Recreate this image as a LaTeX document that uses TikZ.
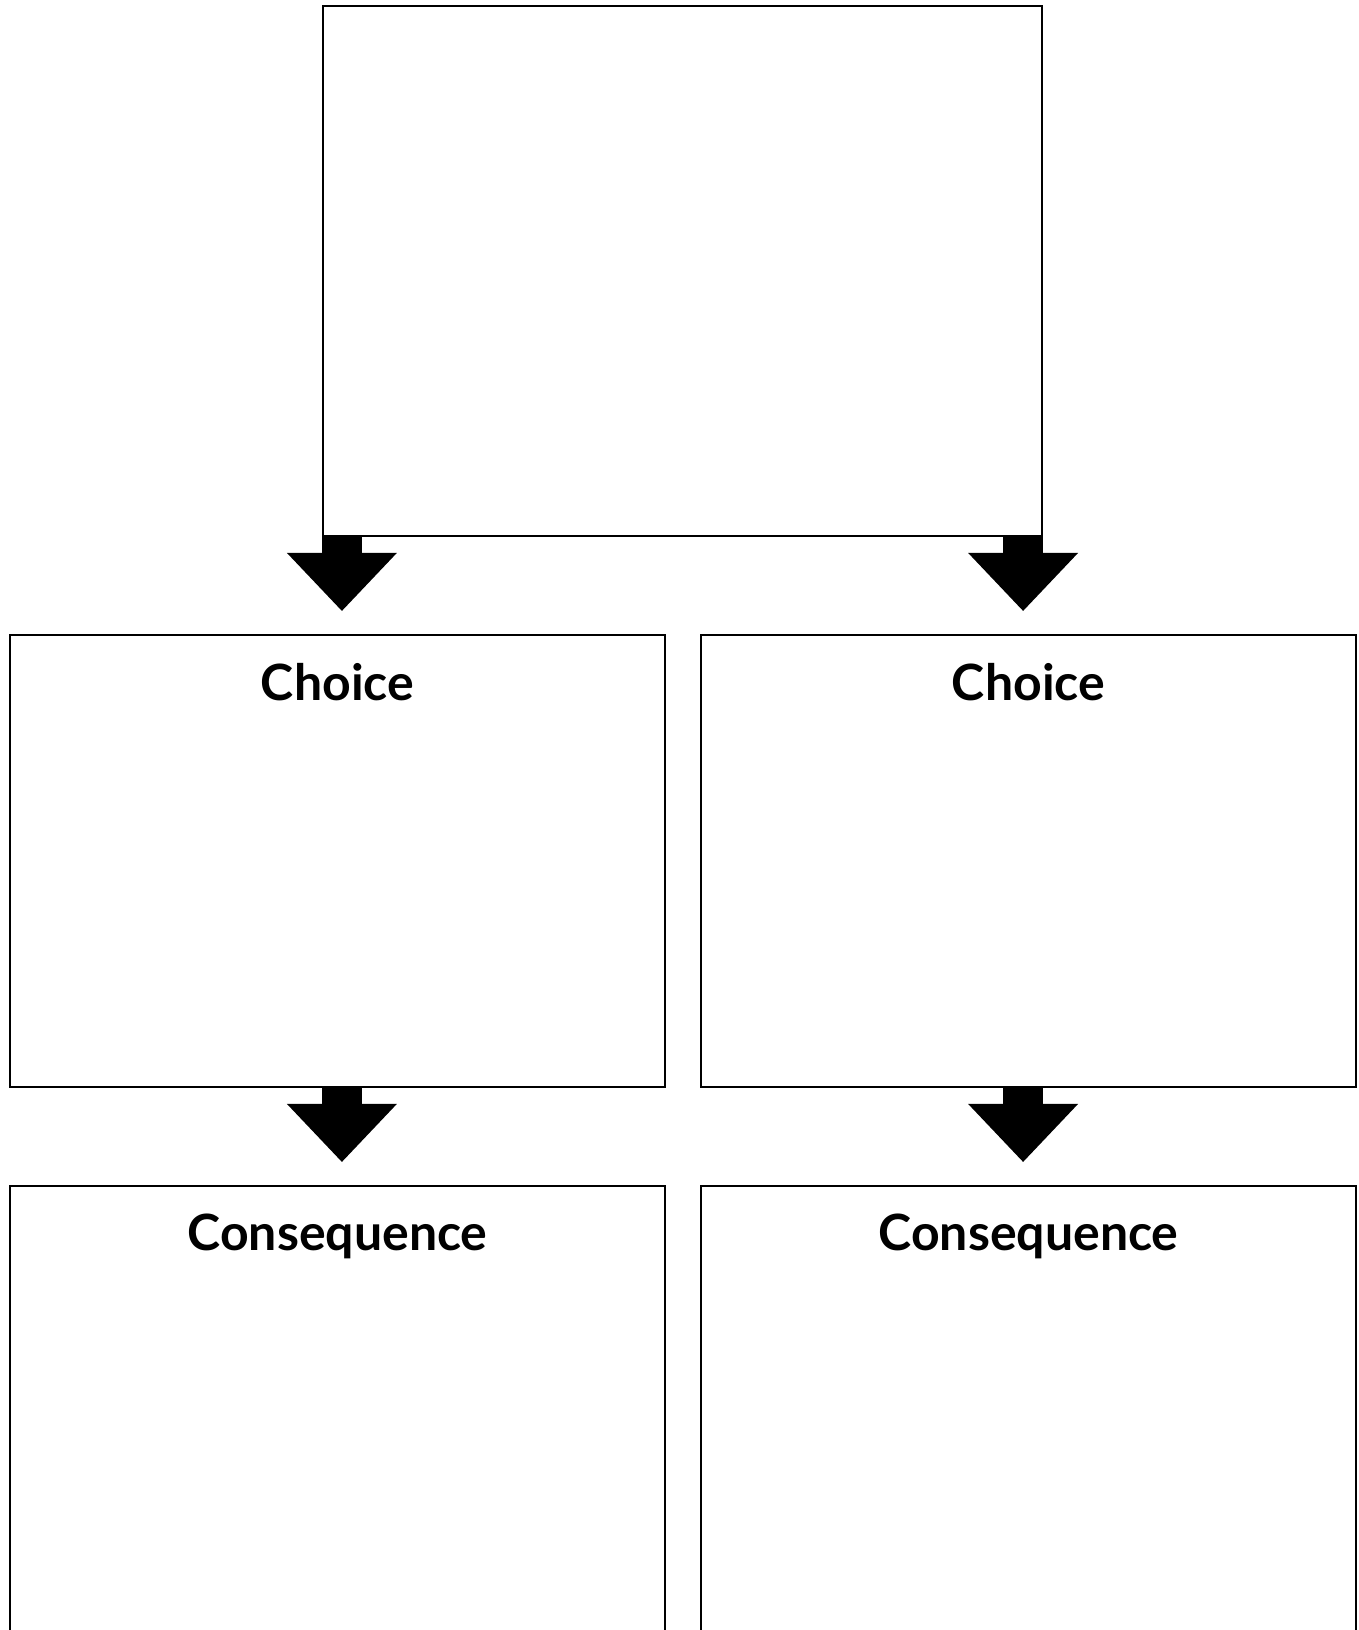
\documentclass[tikz,border=0pt]{standalone}
\usepackage{fontspec}
\setmainfont{Lato}
\usepackage{tikz}
\usetikzlibrary{positioning, arrows.meta}

\begin{document}
\begin{tikzpicture}[
      x=1pt, y=-1pt,
      box/.style={draw, line width=2.2pt, inner sep=0pt},
      title/.style={inner sep=0pt, font=\fontsize{50}{60}\selectfont\bfseries},
      bigarrow/.style={line width=40pt, -{Triangle[width=110pt, length=58pt, line width=0pt]}, shorten >=23pt}
    ]
      \useasboundingbox (0,0) rectangle (1359,1630);

      \node[box, minimum width=719pt, minimum height=530pt] (event) at (682.5,271) {};
      \node[box, minimum width=655pt, minimum height=452pt] (choiceA) at (337.5,861) {};
      \node[box, minimum width=655pt, minimum height=452pt] (choiceB) at (1028.5,861) {};
      \node[box, minimum width=655pt, minimum height=514pt] (resultA) at (337.5,1443) {};
      \node[box, minimum width=655pt, minimum height=514pt] (resultB) at (1028.5,1443) {};

      \node[title, below=29pt of choiceA.north] (choiceAtitle) {Choice};
      \node[title, below=29pt of choiceB.north] (choiceBtitle) {Choice};
      \node[title, below=29pt of resultA.north] (resultAtitle) {Consequence};
      \node[title, below=29pt of resultB.north] (resultBtitle) {Consequence};

      \draw[bigarrow] ([xshift=20pt]event.south west) -- ([xshift=20pt]event.south west |- choiceA.north);
      \draw[bigarrow] ([xshift=-20pt]event.south east) -- ([xshift=-20pt]event.south east |- choiceB.north);
      \draw[bigarrow] ([xshift=20pt]event.south west |- choiceA.south) -- ([xshift=20pt]event.south west |- resultA.north);
      \draw[bigarrow] ([xshift=-20pt]event.south east |- choiceB.south) -- ([xshift=-20pt]event.south east |- resultB.north);
    \end{tikzpicture}
\end{document}
